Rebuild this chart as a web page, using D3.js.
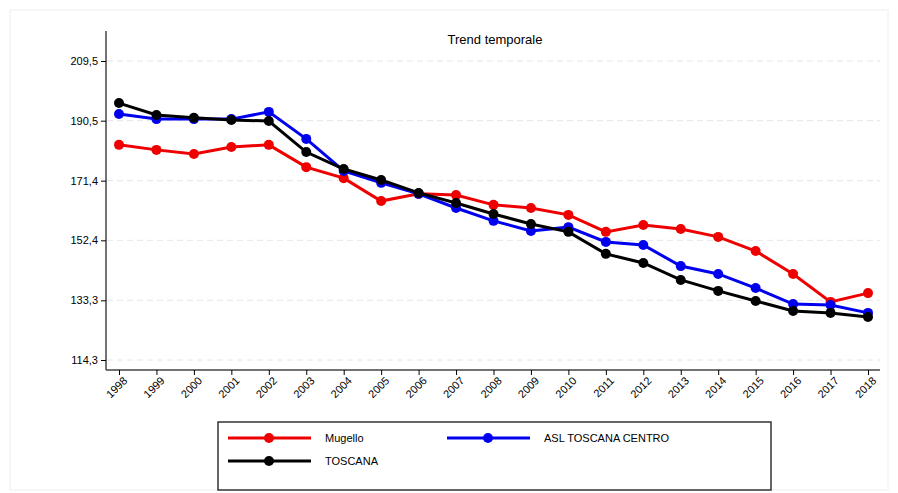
<!DOCTYPE html>
<html><head><meta charset="utf-8">
<script src="https://cdn.jsdelivr.net/npm/d3@7"></script>
<style>body{margin:0;background:#fff;font-family:"Liberation Sans",Arial,sans-serif}</style>
</head><body><svg id="c" width="898" height="493"></svg>
<script>
var years = d3.range(1998, 2019);
var mugello = [182.8,181.2,179.9,182.1,182.8,175.7,172.2,164.9,167.2,166.8,163.7,162.7,160.5,155.1,157.3,156.0,153.5,149.0,141.7,132.8,135.6];
var asl = [192.6,191.0,191.0,191.0,193.3,184.7,174.5,170.7,167.2,162.7,158.6,155.4,156.6,151.9,150.9,144.2,141.7,137.2,132.1,131.8,129.3];
var toscana = [196.1,192.3,191.4,190.7,190.4,180.5,175.1,171.6,167.5,164.3,160.8,157.6,155.1,148.1,145.2,139.8,136.3,133.1,129.9,129.3,128.0];
var yTicks = [114.3,133.3,152.4,171.4,190.5,209.5];
var series = [
  {name:"Mugello", values:mugello, color:"#ee0000"},
  {name:"ASL TOSCANA CENTRO", values:asl, color:"#0000ee"},
  {name:"TOSCANA", values:toscana, color:"#000000"}
];

var svg = d3.select("#c");
svg.append("rect").attr("x",10).attr("y",10).attr("width",878).attr("height",480)
  .attr("fill","none").attr("stroke","#eee");

var x = d3.scalePoint().domain(years).range([119, 868]);
var y = d3.scaleLinear().domain([114.3, 209.5]).range([360, 61]);

svg.append("text").attr("x",495).attr("y",44).attr("text-anchor","middle")
  .attr("font-size",13).text("Trend temporale");

// grid
svg.selectAll(".grid").data(yTicks).enter().append("line")
  .attr("x1",107).attr("x2",880).attr("y1",d=>y(d)).attr("y2",d=>y(d))
  .attr("stroke","#e6e6e6").attr("stroke-dasharray","6,4");

var yAxis = svg.append("g").attr("transform","translate(106,0)")
  .call(d3.axisLeft(y).tickValues(yTicks).tickSize(5).tickFormat(d=>d3.format(".1f")(d).replace(".",",")));
yAxis.select(".domain").attr("d","M0,31V370").attr("stroke","#444").attr("stroke-width",1.5);
yAxis.selectAll("text").attr("font-size",11).attr("font-family","Liberation Sans Narrow, Liberation Sans, Arial");

var xAxis = svg.append("g").attr("transform","translate(0,370)")
  .call(d3.axisBottom(x).tickSize(5));
xAxis.select(".domain").attr("d","M106,0H880").attr("stroke","#444").attr("stroke-width",1.5);
xAxis.selectAll("text").attr("font-size",11).attr("font-family","Liberation Sans Narrow, Liberation Sans, Arial")
  .attr("text-anchor","end").attr("dx","-2").attr("dy","6").attr("transform","rotate(-45)");

var line = d3.line().x((d,i)=>x(years[i])).y(d=>y(d));
series.forEach(function(s){
  svg.append("path").datum(s.values).attr("d",line).attr("fill","none")
    .attr("stroke",s.color).attr("stroke-width",3);
  svg.selectAll(null).data(s.values).enter().append("circle")
    .attr("cx",(d,i)=>x(years[i])).attr("cy",d=>y(d)).attr("r",5).attr("fill",s.color);
});

// legend
var lg = svg.append("g");
lg.append("rect").attr("x",218).attr("y",422).attr("width",553).attr("height",68)
  .attr("fill","#fff").attr("stroke","#333").attr("stroke-width",1.5);
var pos = [[228,438],[447,438],[228,461]];
series.forEach(function(s,i){
  var p = pos[i];
  lg.append("line").attr("x1",p[0]).attr("x2",p[0]+83).attr("y1",p[1]).attr("y2",p[1])
    .attr("stroke",s.color).attr("stroke-width",3);
  lg.append("circle").attr("cx",p[0]+41).attr("cy",p[1]).attr("r",5).attr("fill",s.color);
  lg.append("text").attr("x",p[0]+97).attr("y",p[1]+4).attr("font-size",11).text(s.name);
});
</script></body></html>
